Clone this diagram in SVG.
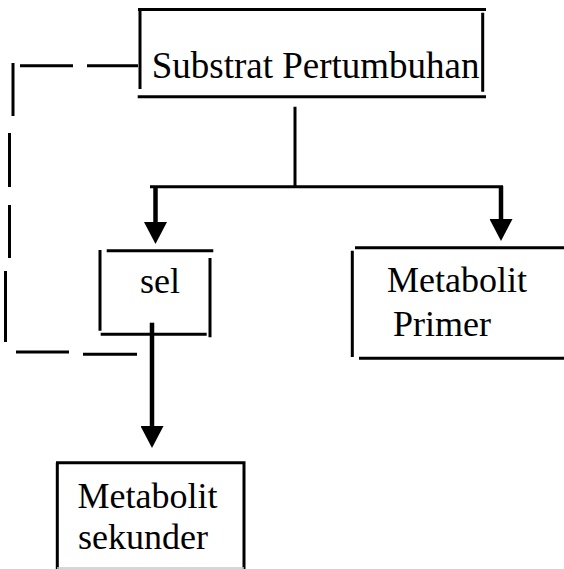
<svg xmlns="http://www.w3.org/2000/svg" width="564" height="569" viewBox="0 0 564 569">
<style>
.ln{stroke:#000;stroke-width:3;fill:none;stroke-linecap:butt}
.sh{stroke:#000;stroke-width:4.5;fill:none}
.tx{font-family:"Liberation Serif","Times New Roman",serif;fill:#000}
</style>
<defs>
<marker id="ah" viewBox="0 0 22 23" refX="1" refY="11.5" markerWidth="22" markerHeight="23" markerUnits="userSpaceOnUse" orient="auto">
<path d="M0,0 L22,11.5 L0,23 z" fill="#000"/>
</marker>
</defs>
<rect width="564" height="569" fill="#fff"/>
<g id="substrat">
<path class="ln" d="M138,9.5H486 M140,10V89 M482.7,12.7V91.7 M137.7,96.7H486"/>
<text class="tx" x="151.7" y="78" font-size="37">Substrat Pertumbuhan</text>
</g>
<g id="sel">
<path class="ln" d="M106.7,250.7H213.3 M100,250V330.7 M210,258V337.3 M100.7,334.3H206.7"/>
<text class="tx" x="140" y="293" font-size="36">sel</text>
</g>
<g id="primer">
<path class="ln" d="M355,247.7H564 M352.3,250.7V357 M359,358.3H564"/>
<text class="tx" x="387" y="292" font-size="36">Metabolit</text>
<text class="tx" x="393" y="336" font-size="36">Primer</text>
</g>
<g id="sekunder">
<path class="ln" d="M56,462.7H245.5 M57.3,462.7V569 M244,462.7V569"/>
<path d="M57,568H244" stroke="#c8c8c8" stroke-width="1.5" fill="none"/>
<text class="tx" x="77.5" y="508" font-size="36">Metabolit</text>
<text class="tx" x="78" y="549" font-size="36">sekunder</text>
</g>
<g id="connectors">
<path class="ln" d="M295,106.7V186.7 M150,186.7H503"/>
<path class="sh" d="M155.5,186V223" marker-end="url(#ah)"/>
<path class="sh" d="M501,186V220" marker-end="url(#ah)"/>
<path class="sh" d="M152,322.7V427" marker-end="url(#ah)"/>
<path class="ln" d="M20,65.7H73 M87,65.7H138 M13,63V116 M9.5,133V187 M9.5,205V258 M5.5,271V342 M16,352H69 M83,354.3H137"/>
</g>
</svg>
